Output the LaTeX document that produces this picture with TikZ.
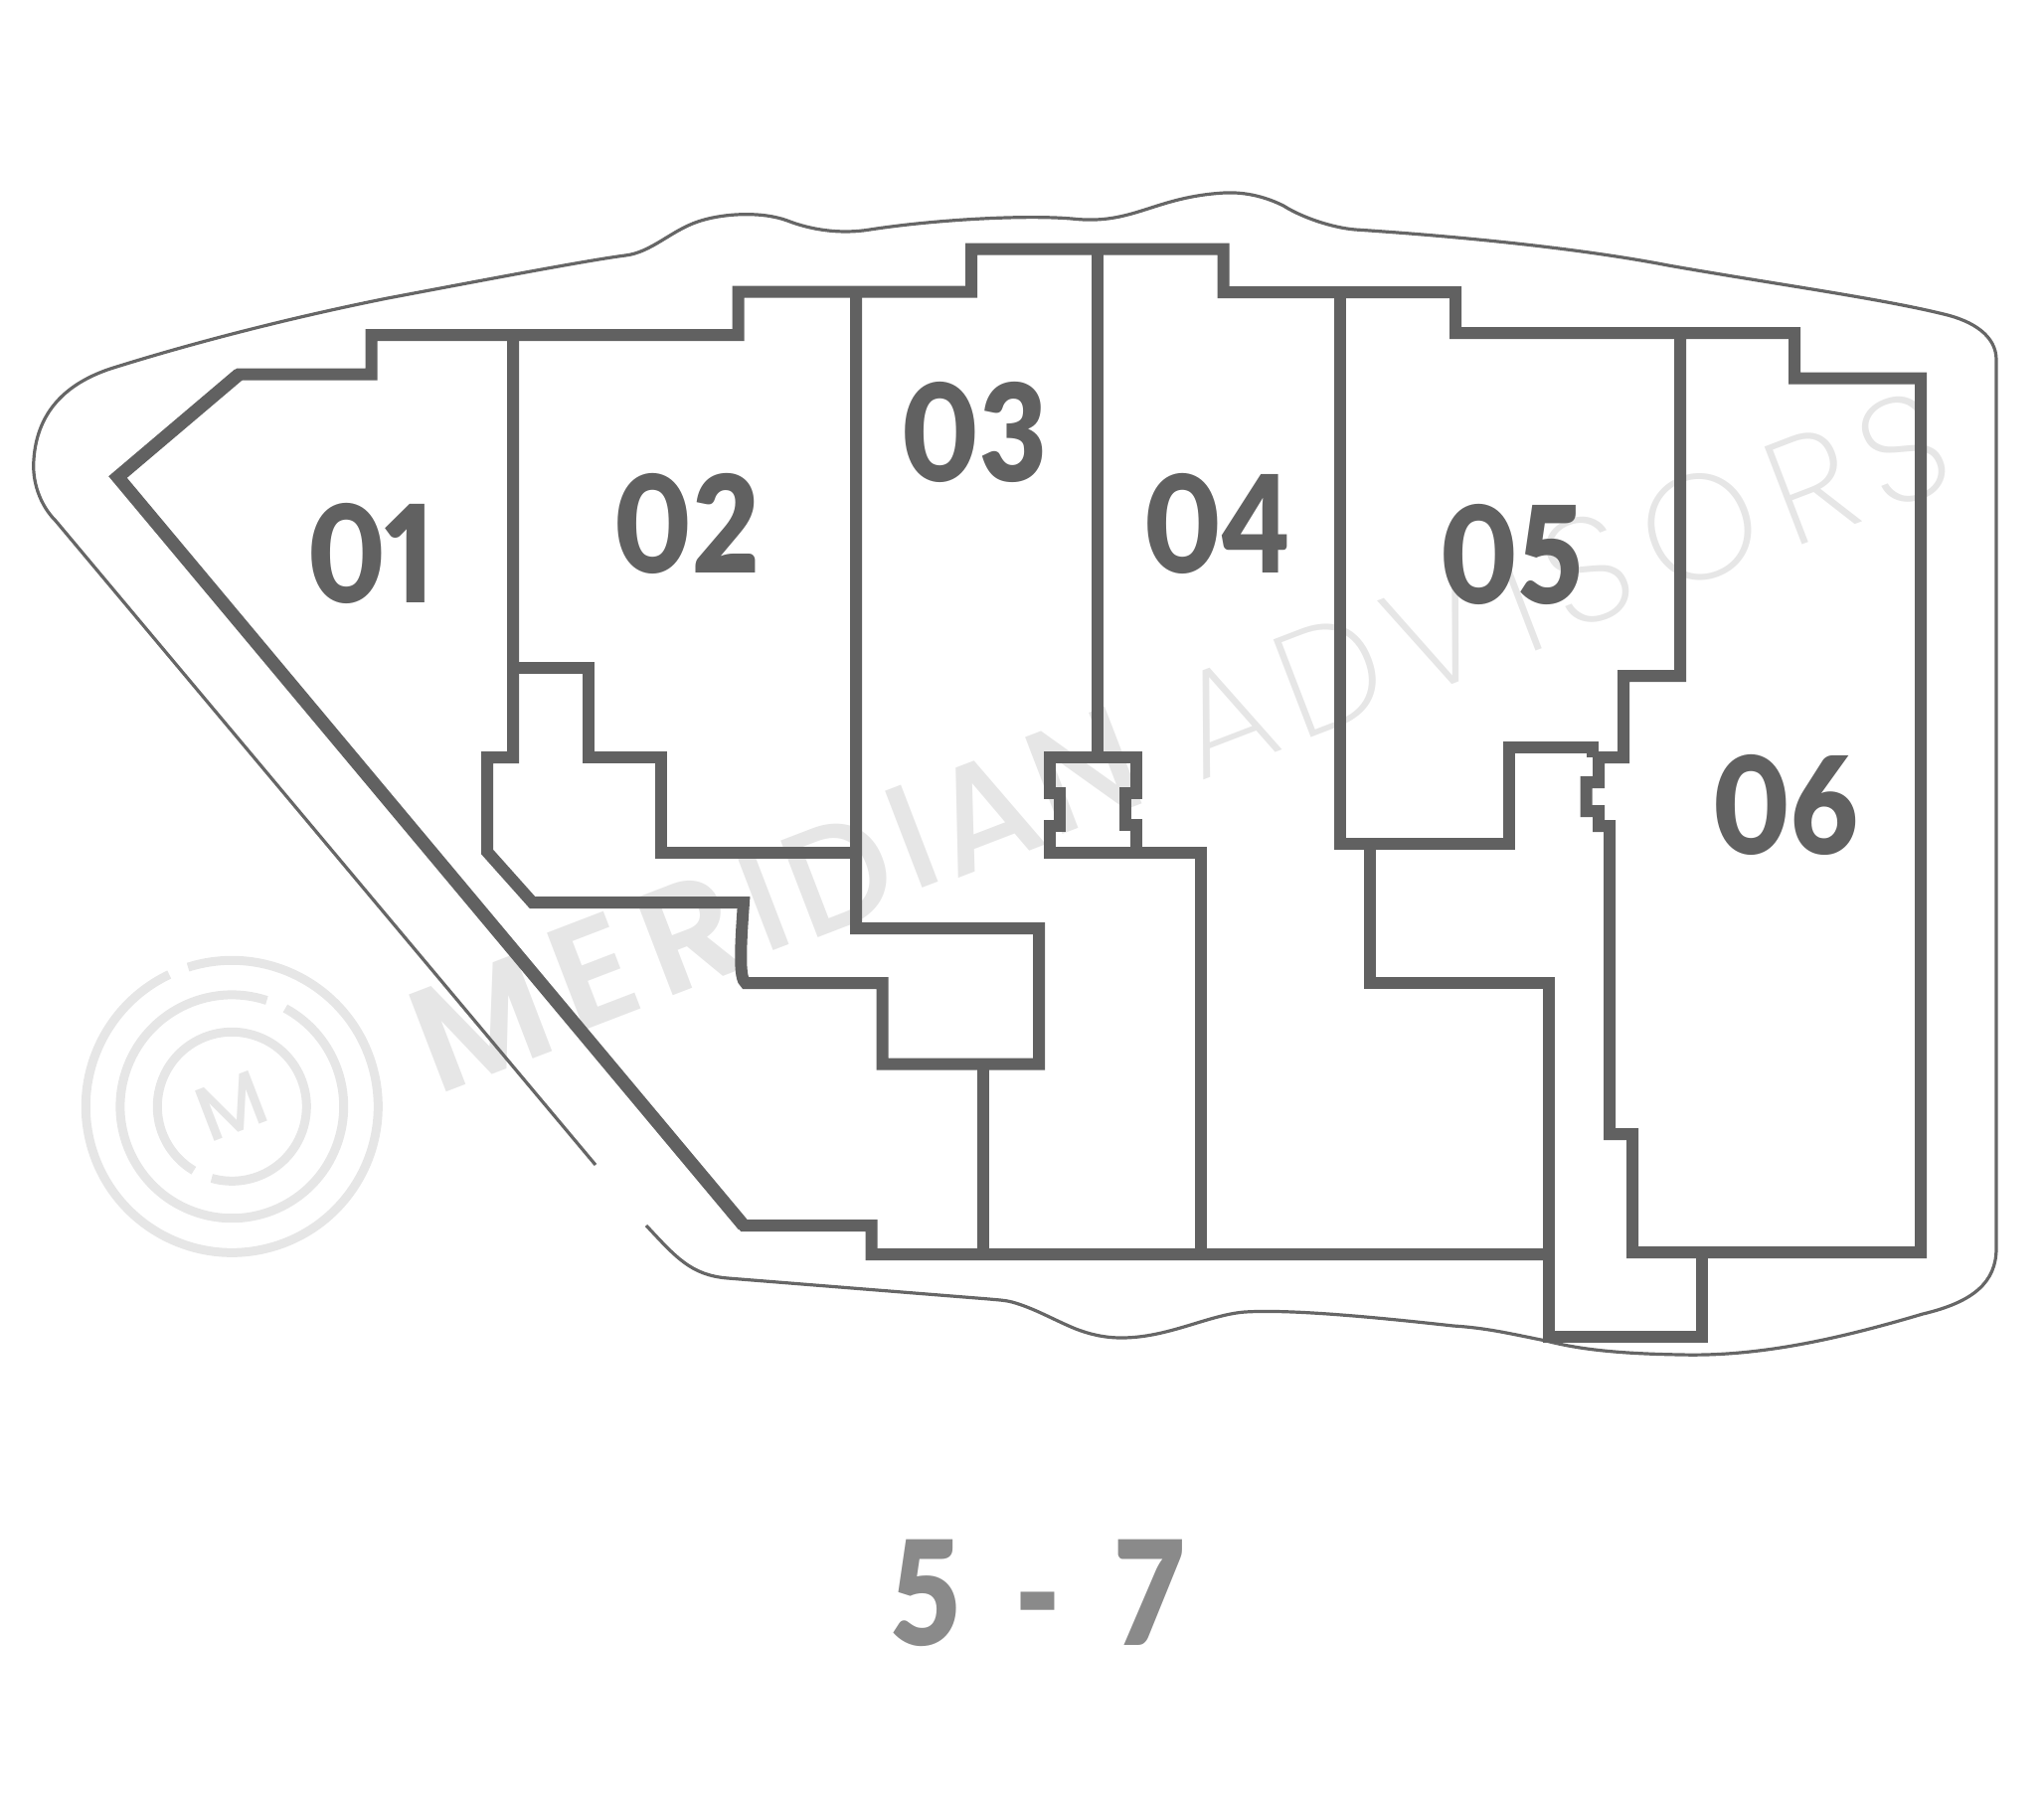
\documentclass[tikz,border=0pt]{standalone}
\usepackage{fontspec}
\newfontfamily\labfont{Lato}[UprightFont=* Black,Numbers=Proportional,FakeStretch=0.86]
\newfontfamily\wmbold{Poppins}[UprightFont=* SemiBold]
\newfontfamily\wmthick{Poppins}[UprightFont=* Medium]
\newfontfamily\wmthin{Poppins}[UprightFont=* ExtraLight]
\definecolor{wall}{HTML}{616161}
\definecolor{outl}{HTML}{666666}
\definecolor{wm}{HTML}{E6E6E6}
\definecolor{lvl}{HTML}{8A8A8A}
\tikzset{
 wallline/.style={draw=wall,line width=6pt,miter limit=20,line join=miter},
 outline/.style={draw=outl,line width=1.6pt,line join=round},
 ring/.style={draw=wm,line width=4.5pt},
 unitlab/.style={text=wall,font=\labfont\fontsize{68}{68}\selectfont,inner sep=0pt},
 lvllab/.style={text=lvl,font=\labfont\fontsize{73}{73}\selectfont,inner sep=0pt},
 wmC/.style={text=wm,font=\wmbold\fontsize{75}{75}\selectfont,rotate=21,inner sep=0pt},
 wmA/.style={text=wm,font=\wmthick\fontsize{75}{75}\selectfont,rotate=21,inner sep=0pt},
 wmB/.style={text=wm,font=\wmthin\fontsize{75}{75}\selectfont,rotate=21,inner sep=0pt},
}
\begin{document}
\begin{tikzpicture}[x=0.5pt,y=-0.5pt]
\useasboundingbox (0,0) rectangle (2056,1805);
% watermark
\node[wmC] (w1) at (484,1029) {M};
\node[wmC] (w2) at (597,977) {E};
\node[wmC] (w3) at (694,939) {R};
\node[wmA] (w4) at (767,905) {I};
\node[wmA] (w5) at (843,880) {D};
\node[wmA] (w6) at (917,842) {I};
\node[wmA] (w7) at (990,818) {A};
\node[wmA] (w8) at (1090,775) {N};
\node[wmB] (w9) at (1232,722) {A};
\node[wmB] (w10) at (1338,678) {D};
\node[wmB] (w11) at (1445,638) {V};
\node[wmB] (w12) at (1529,605) {I};
\node[wmB] (w13) at (1596,573) {S};
\node[wmB] (w14) at (1710,530) {O};
\node[wmB] (w15) at (1822,488) {R};
\node[wmB] (w16) at (1914,452) {S};
% logo
\begin{scope}[shift={(233.3,1113.3)}]
\draw[ring] (107.5:73.5pt) arc[start angle=107.5,end angle=-244.6,radius=73.5pt];
\draw[ring] (71.8:56.2pt) arc[start angle=71.8,end angle=421.5,radius=56.2pt];
\draw[ring] (254.2:37.5pt) arc[start angle=254.2,end angle=599.2,radius=37.5pt];
\node[text=wm,font=\wmthick\fontsize{39}{39}\selectfont,rotate=21,inner sep=0pt] (logom) at (0,0) {M};
\end{scope}
% outline
\draw[outline] (599,1172) -- (56,524) .. controls (40,508) and (32,484) .. (34,462) .. controls (37,420) and (60,388) .. (111,371) .. controls (200,343) and (300,318) .. (390,300) .. controls (480,283) and (590,262) .. (629,257) .. controls (655,254) and (675,232) .. (702,223) .. controls (725,215) and (765,212) .. (792,222) .. controls (815,231) and (845,236) .. (875,231) .. controls (940,221) and (1030,216) .. (1078,220) .. controls (1140,227) and (1160,198) .. (1232,194) .. controls (1255,193) and (1275,199) .. (1291,207) .. controls (1310,219) and (1340,229) .. (1363,231) .. controls (1470,238) and (1590,250) .. (1678,267) .. controls (1780,285) and (1890,300) .. (1955,316) .. controls (1985,323) and (2008,338) .. (2008,362) -- (2008,1256) .. controls (2008,1290) and (1985,1310) .. (1934,1322) .. controls (1850,1347) and (1770,1365) .. (1691,1363) .. controls (1630,1362) and (1590,1358) .. (1555,1349) .. controls (1520,1342) and (1495,1336) .. (1462,1334) .. controls (1390,1326) and (1300,1317) .. (1252,1320) .. controls (1215,1323) and (1175,1346) .. (1128,1346) .. controls (1110,1346) and (1095,1342) .. (1082,1337) .. controls (1060,1328) and (1040,1316) .. (1018,1310) .. controls (1010,1308) and (1005,1308) .. (995,1307) -- (732,1286) .. controls (695,1283) and (680,1265) .. (650,1233);
% walls
\draw[wallline] (1558,1262) -- (876.5,1262) -- (876.5,1233) -- (748,1233) -- (118.5,480) -- (240.5,376.5) -- (373.5,376.5) -- (373.5,337) -- (742.5,337) -- (742.5,293.5) -- (977,293.5) -- (977,250.5) -- (1230.5,250.5) -- (1230.5,294) -- (1464,294) -- (1464,335) -- (1805,335) -- (1805,380.5) -- (1932,380.5) -- (1932,1260) -- (1642,1260) -- (1642,1141) -- (1619,1141) -- (1619,831) -- (1608,831) -- (1608,816) -- (1595.5,816) -- (1595.5,787) -- (1608,787) -- (1608,762) -- (1633,762) -- (1633,680) -- (1690,680) -- (1690,335);
\draw[wallline,line width=6.6pt] (748,1233) -- (118.5,480) -- (240.5,376.5);
\draw[wallline] (1602,762) -- (1602,752) -- (1518,752) -- (1518,848.5) -- (1347.5,848.5) -- (1347.5,294);
\draw[wallline] (1377.5,848.5) -- (1377.5,989) -- (1558,989) -- (1558,1345) -- (1712,1345) -- (1712,1260);
% 01/02 and corridor
\draw[wallline] (516,337) -- (516,762) -- (490,762) -- (490,857) -- (535.5,908) -- (748,908) .. controls (745,950) and (743,985) .. (750,989) -- (887.5,989) -- (887.5,1070.5) -- (1045,1070.5) -- (1045,934) -- (861,934) -- (861,294);
\draw[wallline] (516,672) -- (591.5,672) -- (591.5,762) -- (664.5,762) -- (664.5,858) -- (861,858);
\draw[wallline] (989,1070.5) -- (989,1262);
\draw[wallline] (1103.5,250.5) -- (1103.5,762);
\draw[wallline] (1208,1262) -- (1208,858) -- (1056,858) -- (1056,830.5) -- (1065.5,830.5) -- (1065.5,798) -- (1056,798) -- (1056,762) -- (1143,762) -- (1143,798) -- (1132,798) -- (1132,830) -- (1143,830) -- (1143,858);
% labels
\node[unitlab] (u1) at (373.5,557) {01};
\node[unitlab] (u2) at (690.7,527) {02};
\node[unitlab] (u3) at (980,435) {03};
\node[unitlab] (u4) at (1224.6,527) {04};
\node[unitlab] (u5) at (1520.6,557.5) {05};
\node[unitlab] (u6) at (1796,810) {06};
\node[lvllab] (lvl) at (1043.5,1603) {5\hspace{13pt} - \hspace{13pt}7};
\end{tikzpicture}
\end{document}
